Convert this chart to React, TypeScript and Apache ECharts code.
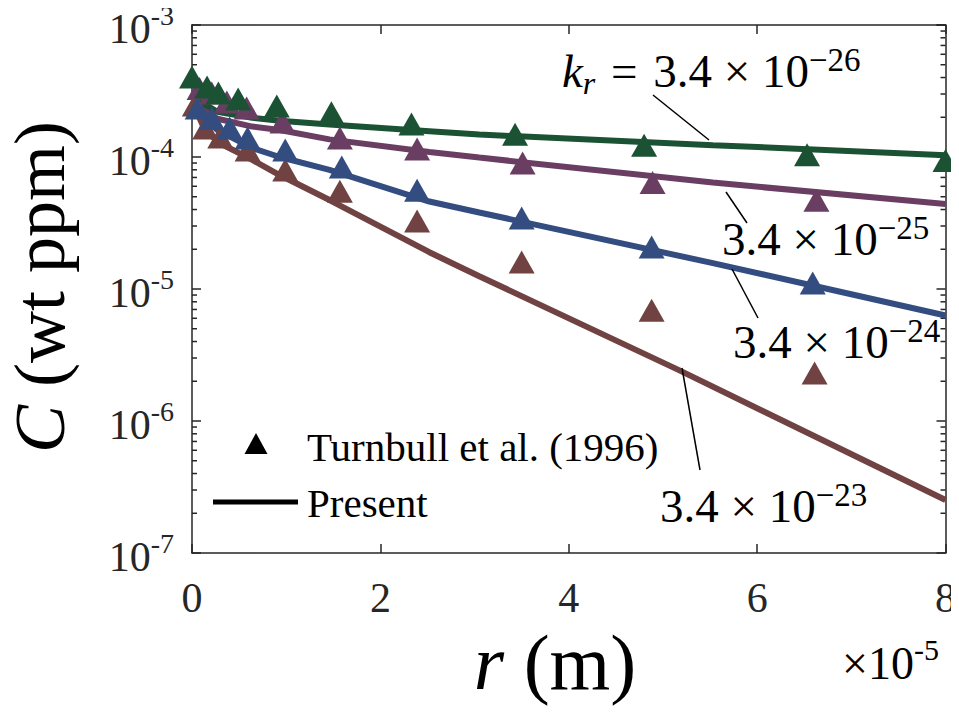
import React, { useEffect, useRef } from "react";
import * as echarts from "echarts";

// r values in units of 1e-5 m (as shown on the axis, with the ×10^-5 multiplier)
const xTicks = [0, 2, 4, 6, 8];
const yMin = 1e-7;
const yMax = 1e-3;
const minorMultipliers = [2, 3, 4, 5, 6, 7, 8, 9];
const minorDecades = [1e-7, 1e-6, 1e-5, 1e-4];

// Turnbull et al. (1996) experimental points
const expGreenR = [0, 0.16, 0.28, 0.49, 0.9, 1.48, 2.33, 3.43, 4.8, 6.53, 8.0];
const expGreenC = [4.03e-4, 3.39e-4, 3.05e-4, 2.75e-4, 2.43e-4, 2.16e-4, 1.78e-4, 1.49e-4, 1.23e-4, 1.04e-4, 9.4e-5];
const expPurpleR = [0.08, 0.21, 0.37, 0.58, 0.96, 1.57, 2.39, 3.51, 4.89, 6.63];
const expPurpleC = [3.3e-4, 3.05e-4, 2.61e-4, 2.35e-4, 1.84e-4, 1.39e-4, 1.15e-4, 9.0e-5, 6.4e-5, 4.7e-5];
const expBlueR = [0.06, 0.21, 0.4, 0.59, 0.99, 1.59, 2.39, 3.5, 4.88, 6.59];
const expBlueC = [2.35e-4, 1.97e-4, 1.66e-4, 1.39e-4, 1.13e-4, 8.4e-5, 5.6e-5, 3.45e-5, 2.08e-5, 1.11e-5];
const expBrownR = [0.03, 0.14, 0.3, 0.59, 0.99, 1.57, 2.39, 3.5, 4.88, 6.61];
const expBrownC = [2.48e-4, 1.66e-4, 1.42e-4, 1.13e-4, 7.98e-5, 5.5e-5, 3.27e-5, 1.6e-5, 6.9e-6, 2.31e-6];

// Present model curves
const modelR = [0.05, 0.12, 0.27, 0.64, 0.93, 1.46, 2.52, 3.05, 5.53, 8.0];
const modelGreenC = [2.9e-4, 2.55e-4, 2.2e-4, 1.98e-4, 1.88e-4, 1.76e-4, 1.57e-4, 1.48e-4, 1.23e-4, 1.03e-4];
const modelPurpleC = [2.7e-4, 2.3e-4, 1.95e-4, 1.7e-4, 1.6e-4, 1.36e-4, 1.09e-4, 9.9e-5, 6.4e-5, 4.4e-5];
const modelBlueC = [2.5e-4, 2.0e-4, 1.6e-4, 1.17e-4, 1.0e-4, 8.0e-5, 4.6e-5, 3.8e-5, 1.57e-5, 6.3e-6];
const modelBrownR = [0.05, 0.12, 0.27, 0.64, 0.93, 1.46, 2.52, 3.05, 5.17, 8.0];
const modelBrownC = [2.2e-4, 1.7e-4, 1.3e-4, 9.5e-5, 7.3e-5, 4.72e-5, 1.9e-5, 1.25e-5, 2.43e-6, 2.52e-7];

const GREEN = "#1b5234";
const PURPLE = "#6a3e62";
const BLUE = "#344d80";
const BROWN = "#704242";
const AX = "#262626";
const SERIF = "Liberation Serif";

const zip = (xs: number[], ys: number[]) => xs.map((x, i) => [x, ys[i]]);

export default function App() {
  const ref = useRef<HTMLDivElement>(null);
  useEffect(() => {
    if (!ref.current) return;
    const chart = echarts.init(ref.current, undefined, { renderer: "svg" });
    const minorVals: number[][] = [];
    minorDecades.forEach((d) => minorMultipliers.forEach((m) => minorVals.push([0, m * d])));

    const lineSeries = (name: string, xs: number[], ys: number[], color: string) => ({
      type: "line",
      name,
      data: zip(xs, ys),
      symbol: "none",
      smooth: false,
      lineStyle: { color, width: 6 },
      itemStyle: { color },
      z: 3,
      silent: true,
    });
    const scatterSeries = (name: string, xs: number[], ys: number[], color: string) => ({
      type: "scatter",
      name,
      data: zip(xs, ys),
      symbol: "triangle",
      symbolSize: [26, 23],
      itemStyle: { color, opacity: 1 },
      z: 4,
      silent: true,
    });

    const labelRich = {
      b: { fontSize: 42, fontFamily: SERIF, color: AX, lineHeight: 56 },
      s: { fontSize: 28, fontFamily: SERIF, color: AX, lineHeight: 28, verticalAlign: "top" },
    };
    const annRich = {
      n: { fontSize: 47, fontFamily: SERIF, color: "#000", lineHeight: 56 },
      i: { fontSize: 47, fontFamily: SERIF, fontStyle: "italic", color: "#000", lineHeight: 56 },
      sub: { fontSize: 32, fontFamily: SERIF, fontStyle: "italic", color: "#000", lineHeight: 30, verticalAlign: "bottom" },
      sup: { fontSize: 33, fontFamily: SERIF, color: "#000", lineHeight: 30, verticalAlign: "top" },
    };
    const ann = (x: number, y: number, text: string) => ({
      type: "text",
      x,
      y,
      z: 10,
      style: { text, rich: annRich, textAlign: "left", textVerticalAlign: "top", align: "left", verticalAlign: "top" },
    });
    const leader = (x1: number, y1: number, x2: number, y2: number) => ({
      type: "line",
      z: 10,
      shape: { x1, y1, x2, y2 },
      style: { stroke: "#000", lineWidth: 1.5 },
    });

    chart.setOption({
      animation: false,
      backgroundColor: "#ffffff",
      textStyle: { fontFamily: SERIF },
      grid: { left: 192, right: 13, top: 25, bottom: 162, containLabel: false },
      xAxis: [
        {
          type: "value",
          min: 0,
          max: 8,
          interval: 2,
          position: "bottom",
          axisLine: { show: true, lineStyle: { color: AX, width: 1.5 } },
          axisTick: { show: true, inside: true, length: 9, lineStyle: { color: AX, width: 1.5 } },
          axisLabel: { show: true, margin: 24, fontSize: 42, fontFamily: SERIF, color: AX, formatter: (v: number) => String(v) },
          splitLine: { show: false },
        },
        {
          type: "value",
          min: 0,
          max: 8,
          interval: 2,
          position: "top",
          axisLine: { show: true, onZero: false, lineStyle: { color: AX, width: 1.5 } },
          axisTick: { show: true, inside: true, length: 9, lineStyle: { color: AX, width: 1.5 } },
          axisLabel: { show: false },
          splitLine: { show: false },
        },
      ],
      yAxis: [
        {
          type: "log",
          logBase: 10,
          min: yMin,
          max: yMax,
          position: "left",
          axisLine: { show: true, lineStyle: { color: AX, width: 1.5 } },
          axisTick: { show: true, inside: true, length: 9, lineStyle: { color: AX, width: 1.5 } },
          axisLabel: {
            show: true,
            margin: 18,
            padding: [8, 0, 0, 0],
            fontFamily: SERIF,
            formatter: (v: number) => `{b|10}{s|${Math.round(Math.log10(v))}}`,
            rich: labelRich,
          },
          splitLine: { show: false },
        },
        {
          type: "log",
          logBase: 10,
          min: yMin,
          max: yMax,
          position: "right",
          axisLine: { show: true, onZero: false, lineStyle: { color: AX, width: 1.5 } },
          axisTick: { show: true, inside: true, length: 9, lineStyle: { color: AX, width: 1.5 } },
          axisLabel: { show: false },
          splitLine: { show: false },
        },
      ],
      series: [
        {
          type: "custom",
          name: "minorTicks",
          coordinateSystem: "cartesian2d",
          xAxisIndex: 0,
          yAxisIndex: 0,
          silent: true,
          clip: false,
          z: 1,
          data: minorVals,
          renderItem: (params: any, api: any) => {
            const v = api.value(1);
            const L = api.coord([xTicks[0], v]);
            const R = api.coord([xTicks[xTicks.length - 1], v]);
            return {
              type: "group",
              children: [
                { type: "line", shape: { x1: L[0], y1: L[1], x2: L[0] + 5, y2: L[1] }, style: { stroke: AX, lineWidth: 1.5 } },
                { type: "line", shape: { x1: R[0] - 5, y1: R[1], x2: R[0], y2: R[1] }, style: { stroke: AX, lineWidth: 1.5 } },
              ],
            };
          },
        },
        lineSeries("k=3.4e-23 model", modelBrownR, modelBrownC, BROWN),
        lineSeries("k=3.4e-24 model", modelR, modelBlueC, BLUE),
        lineSeries("k=3.4e-25 model", modelR, modelPurpleC, PURPLE),
        lineSeries("k=3.4e-26 model", modelR, modelGreenC, GREEN),
        scatterSeries("k=3.4e-23 exp", expBrownR, expBrownC, BROWN),
        scatterSeries("k=3.4e-24 exp", expBlueR, expBlueC, BLUE),
        scatterSeries("k=3.4e-25 exp", expPurpleR, expPurpleC, PURPLE),
        scatterSeries("k=3.4e-26 exp", expGreenR, expGreenC, GREEN),
      ],
      graphic: [
        // y-axis title
        {
          type: "text",
          x: 40,
          y: 287,
          rotation: Math.PI / 2,
          style: {
            text: "{i|C}{n| (wt ppm)}",
            rich: {
              i: { fontSize: 72, fontFamily: SERIF, fontStyle: "italic", color: "#000" },
              n: { fontSize: 72, fontFamily: SERIF, color: "#000" },
            },
            textAlign: "center",
            textVerticalAlign: "middle",
            align: "center",
            verticalAlign: "middle",
          },
        },
        // x-axis title
        {
          type: "text",
          x: 555,
          y: 662,
          style: {
            text: "{i|r}{n| (m)}",
            rich: {
              i: { fontSize: 78, fontFamily: SERIF, fontStyle: "italic", color: "#000" },
              n: { fontSize: 78, fontFamily: SERIF, color: "#000" },
            },
            textAlign: "center",
            textVerticalAlign: "middle",
            align: "center",
            verticalAlign: "middle",
          },
        },
        // x multiplier
        {
          type: "text",
          x: 842,
          y: 634,
          style: {
            text: "{n|×10}{s|-5}",
            rich: {
              n: { fontSize: 46, fontFamily: SERIF, color: AX, lineHeight: 58 },
              s: { fontSize: 30, fontFamily: SERIF, color: AX, lineHeight: 30, verticalAlign: "top" },
            },
            textAlign: "left",
            textVerticalAlign: "top",
            align: "left",
            verticalAlign: "top",
          },
        },
        // legend
        {
          type: "polygon",
          z: 10,
          shape: { points: [[244.5, 454], [267.5, 454], [256, 433]] },
          style: { fill: "#000" },
        },
        {
          type: "text",
          x: 307,
          y: 447,
          z: 10,
          style: { text: "Turnbull et al. (1996)", fontSize: 41, fontFamily: SERIF, fill: "#000", textAlign: "left", textVerticalAlign: "middle", align: "left", verticalAlign: "middle" },
        },
        {
          type: "line",
          z: 10,
          shape: { x1: 213, y1: 502, x2: 298, y2: 502 },
          style: { stroke: "#000", lineWidth: 5 },
        },
        {
          type: "text",
          x: 307,
          y: 503,
          z: 10,
          style: { text: "Present", fontSize: 41, fontFamily: SERIF, fill: "#000", textAlign: "left", textVerticalAlign: "middle", align: "left", verticalAlign: "middle" },
        },
        // annotations
        ann(562, 43, "{i|k}{sub|r}{n|\u2004=\u20043.4 × 10}{sup|−26}"),
        leader(653, 95, 709, 140),
        ann(722, 211, "{n|3.4 × 10}{sup|−25}"),
        leader(726, 192, 747, 223),
        ann(733, 314, "{n|3.4 × 10}{sup|−24}"),
        leader(732, 269, 758, 318),
        ann(660, 478, "{n|3.4 × 10}{sup|−23}"),
        leader(682, 368, 700, 470),
      ],
    });
    return () => chart.dispose();
  }, []);
  return <div ref={ref} style={{ width: 959, height: 715, margin: -8 }} />;
}
